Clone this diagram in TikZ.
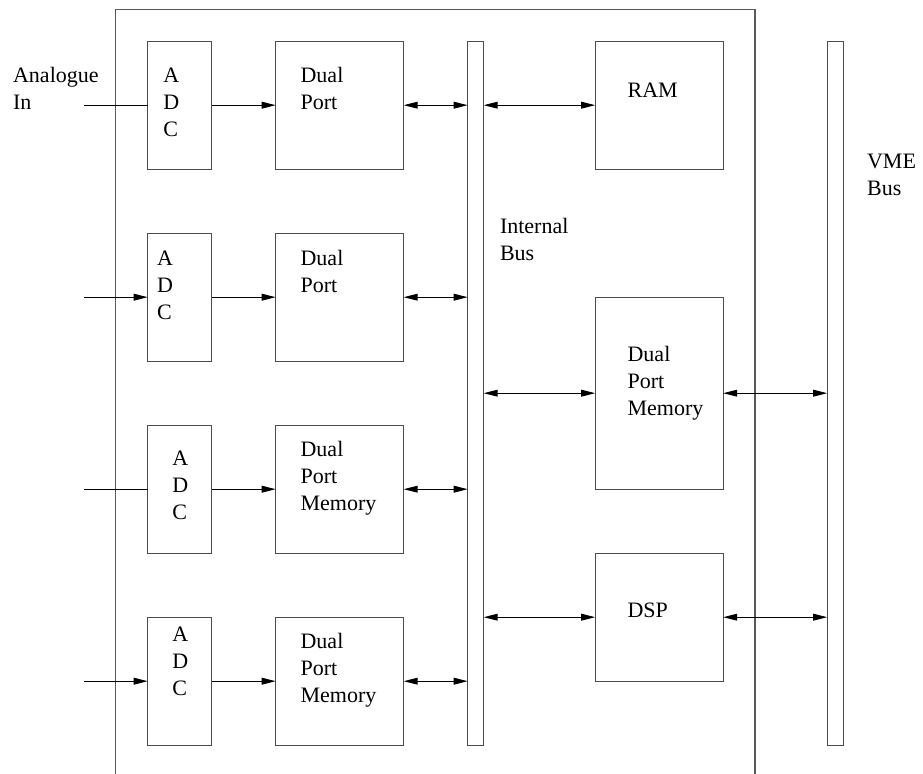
\documentclass[tikz,border=0pt]{standalone}
\usepackage{fontspec}
\setmainfont{Liberation Serif}
\usetikzlibrary{arrows.meta, positioning, calc}
\tikzset{
  blk/.style={rectangle, draw=black!70, line width=0.6pt, inner sep=0pt, outer sep=0pt},
  adcbox/.style={blk, minimum width=32pt, minimum height=64pt},
  dpbox/.style={blk, minimum width=64pt, minimum height=64pt},
  dpmbox/.style={blk, minimum width=64pt, minimum height=96pt},
  busbar/.style={blk, minimum width=8pt, minimum height=352pt},
  lbl/.style={font=\fontsize{11}{13.5}\selectfont, align=left, inner sep=0pt, anchor=base west},
  frame/.style={draw=black!65, line width=0.6pt},
  wire/.style={line width=0.5pt},
  arr/.style={wire, -{Triangle[length=7pt, width=3.4pt]}},
  darr/.style={wire, {Triangle[length=7pt, width=3.4pt]}-{Triangle[length=7pt, width=3.4pt]}},
}

\begin{document}
\begin{tikzpicture}[x=0.5pt, y=-0.5pt, node distance=32pt]
  \useasboundingbox (0,0) rectangle (923,774);

  % board outline (runs off the bottom)
  \draw[frame] (115.7,774) |- (755,9.7) -- (755,774);

  % four input channels
  \node[adcbox] (adc1) at (179.7,105.2) {};
  \node[adcbox, below=of adc1] (adc2) {};
  \node[adcbox, below=of adc2] (adc3) {};
  \node[adcbox, below=of adc3] (adc4) {};
  \foreach \i in {1,...,4}
    \node[dpbox, right=of adc\i] (dp\i) {};

  % buses and shared blocks
  \node[busbar, below right=0pt and 32pt of dp1.north east] (ibus) {};
  \node[dpbox, below right=0pt and 55.75pt of ibus.north east] (ram) {};
  \node[dpmbox, below=64pt of ram] (dpm) {};
  \node[dpbox, below=of dpm] (dsp) {};
  \node[busbar, below right=0pt and 52pt of ram.north east] (vme) {};

  % texts (base = last line)
  \node[lbl] (ain) at (12.7,109.3) {Analogue\\In};
  \node[lbl] (ibust) at (499.6,260.3) {Internal\\Bus};
  \node[lbl] (vmet) at (866.7,195.3) {VME\\Bus};
  \node[lbl] (adc1t) at ($(adc1.north west)+(15.3,95)$) {A\\D\\C};
  \node[lbl] (adc2t) at ($(adc2.north west)+(9,86)$) {A\\D\\C};
  \node[lbl] (adc3t) at ($(adc3.north west)+(24.3,94)$) {A\\D\\C};
  \node[lbl] (adc4t) at ($(adc4.north west)+(24.3,78.3)$) {A\\D\\C};
  \node[lbl] (dp1t) at ($(dp1.north west)+(24.5,68)$) {Dual\\Port};
  \node[lbl] (dp2t) at ($(dp2.north west)+(24.5,59)$) {Dual\\Port};
  \node[lbl] (dp3t) at ($(dp3.north west)+(24.5,85)$) {Dual\\Port\\Memory};
  \node[lbl] (dp4t) at ($(dp4.north west)+(24.5,85.6)$) {Dual\\Port\\Memory};
  \node[lbl] (ramt) at ($(ram.north west)+(32,56.4)$) {RAM};
  \node[lbl] (dpmt) at ($(dpm.north west)+(32,118)$) {Dual\\Port\\Memory};
  \node[lbl] (dspt) at ($(dsp.north west)+(32,64.3)$) {DSP};

  % connections
  \foreach \i in {1,...,4}
    \coordinate[left=of adc\i.west] (in\i);
  \draw[wire] (in1) -- (adc1);
  \draw[arr]  (in2) -- (adc2);
  \draw[wire] (in3) -- (adc3);
  \draw[arr]  (in4) -- (adc4);
  \foreach \i in {1,...,4} {
    \draw[arr]  (adc\i) -- (dp\i);
    \draw[darr] (dp\i) -- (dp\i -| ibus.west);
  }
  \foreach \n in {ram, dpm, dsp}
    \draw[darr] (ibus.east |- \n) -- (\n);
  \foreach \n in {dpm, dsp}
    \draw[darr] (\n) -- (\n -| vme.west);
\end{tikzpicture}
\end{document}
